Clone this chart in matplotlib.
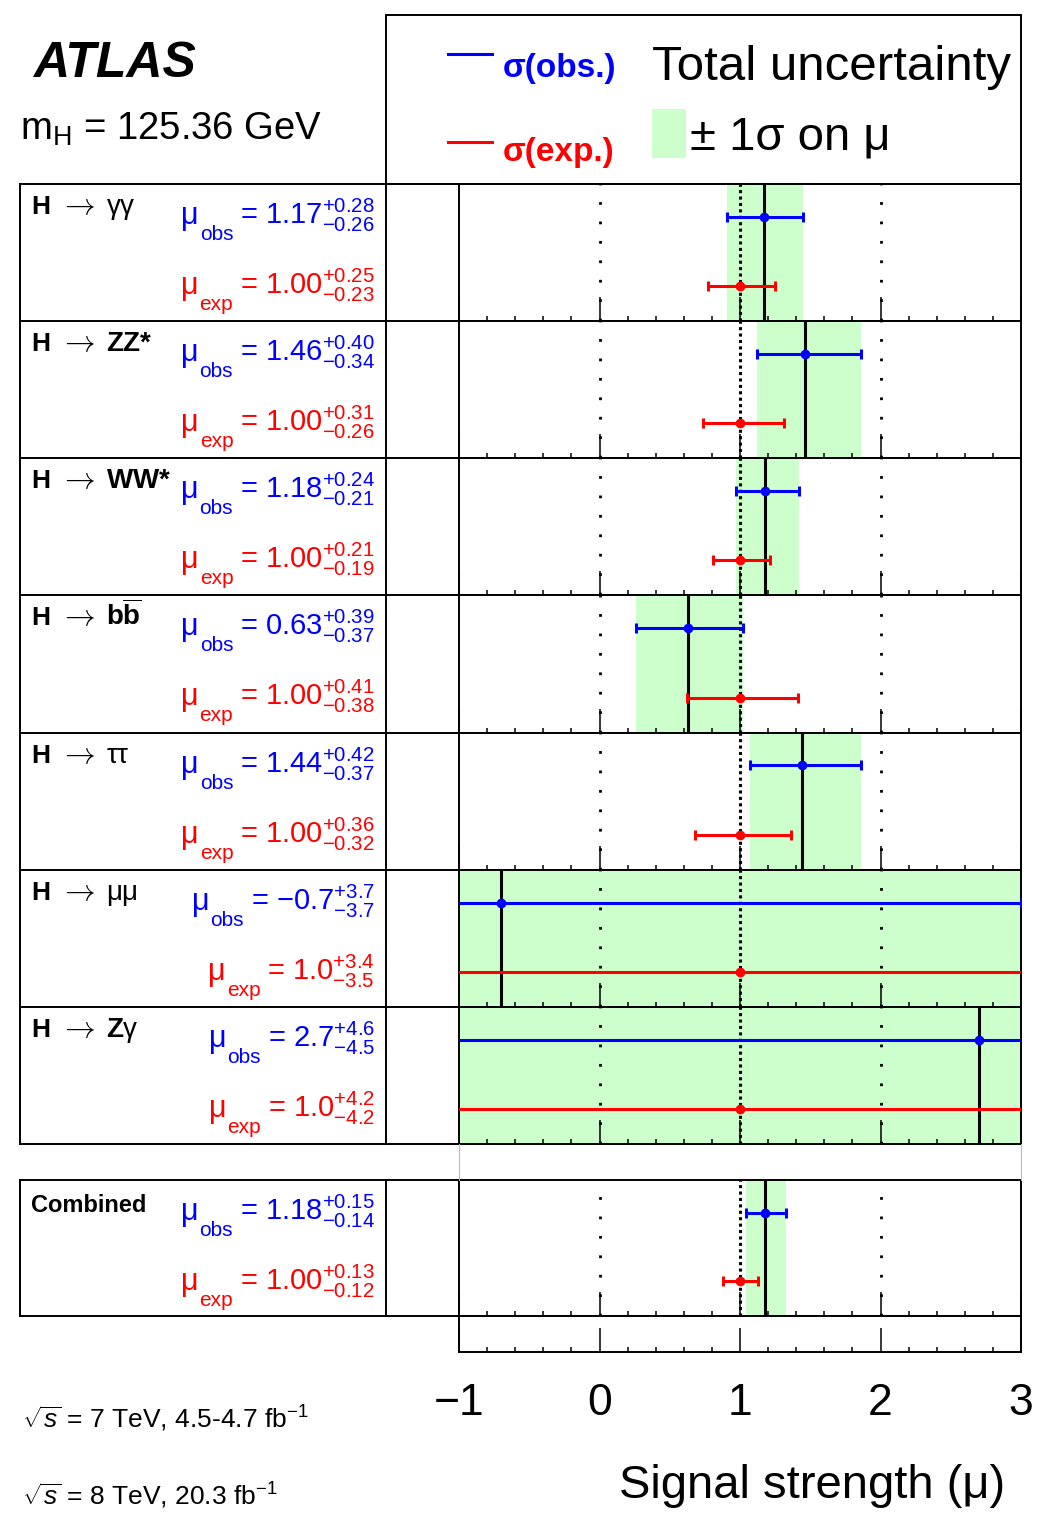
import matplotlib
matplotlib.use("Agg")
import matplotlib.pyplot as plt
import numpy as np
from matplotlib.ticker import MultipleLocator
from matplotlib.patches import Rectangle

plt.rcParams['font.family'] = ['Liberation Sans', 'DejaVu Sans']
plt.rcParams['mathtext.fontset'] = 'custom'
plt.rcParams['mathtext.rm'] = 'Liberation Sans'
plt.rcParams['mathtext.it'] = 'Liberation Sans:italic'
plt.rcParams['mathtext.bf'] = 'Liberation Sans:bold'

# Données : intensité du signal par canal (obs. et attendu)
products = [r"$\mathrm{\gamma\gamma}$",
            r"$\mathbf{ZZ{*}}$",
            r"$\mathbf{WW{*}}$",
            r"$\mathbf{b}\overline{\mathbf{b}}$",
            r"$\mathrm{\tau\tau}$",
            r"$\mathrm{\mu\mu}$",
            r"$\mathbf{Z}\mathrm{\gamma}$",
            "Combined"]
mu_obs = [1.17, 1.46, 1.18, 0.63, 1.44, -0.7, 2.7, 1.18]
obs_up = [0.28, 0.40, 0.24, 0.39, 0.42, 3.7, 4.6, 0.15]
obs_dn = [0.26, 0.34, 0.21, 0.37, 0.37, 3.7, 4.5, 0.14]
mu_exp = [1.00, 1.00, 1.00, 1.00, 1.00, 1.0, 1.0, 1.00]
exp_up = [0.25, 0.31, 0.21, 0.41, 0.36, 3.4, 4.2, 0.13]
exp_dn = [0.23, 0.26, 0.19, 0.38, 0.32, 3.5, 4.2, 0.12]
decimals = [2, 2, 2, 2, 2, 1, 1, 2]

xticks = [-1, 0, 1, 2, 3]

W, H = 1044, 1536
fig = plt.figure(figsize=(W / 100, H / 100), dpi=100)
renderer = fig.canvas.get_renderer()


def box(x0, y0, x1, y1):
    return [x0 / W, 1 - y1 / H, (x1 - x0) / W, (y1 - y0) / H]


def style_axes(ax):
    ax.set_xlim(-1, 3)
    ax.set_ylim(0, 1)
    ax.set_yticks([])
    ax.set_xticks(xticks)
    ax.xaxis.set_minor_locator(MultipleLocator(0.2))
    ax.tick_params(axis='x', which='both', direction='in', top=False, labelbottom=False)
    ax.tick_params(axis='x', which='major', length=17, width=1.1)
    ax.tick_params(axis='x', which='minor', length=3.6, width=1.1)
    for s in ax.spines.values():
        s.set_linewidth(1.4)


def draw_row(i, top, bottom):
    ax = fig.add_axes(box(459, top, 1021, bottom))
    style_axes(ax)
    ax.axvspan(mu_obs[i] - obs_dn[i], mu_obs[i] + obs_up[i], color='#ccffcc', lw=0, zorder=0)
    ax.axvline(0, color='k', lw=2.0, ls=(0, (1, 6)), zorder=1)
    ax.axvline(2, color='k', lw=2.0, ls=(0, (1, 6)), zorder=1)
    ax.axvline(1, color='k', lw=2.2, ls=(0, (1, 1.1)), zorder=1)
    ax.axvline(mu_obs[i], color='k', lw=2.2, zorder=2)
    ax.errorbar(mu_obs[i], 0.76, xerr=[[obs_dn[i]], [obs_up[i]]], fmt='o', color='blue',
                ms=6, elinewidth=2.2, capsize=3.5, capthick=2.2, zorder=3)
    ax.errorbar(mu_exp[i], 0.255, xerr=[[exp_dn[i]], [exp_up[i]]], fmt='o', color='red',
                ms=6, elinewidth=2.2, capsize=3.5, capthick=2.2, zorder=3)
    return ax


# calque en pixels pour les cadres et les textes
ov = fig.add_axes([0, 0, 1, 1], zorder=5)
ov.set_xlim(0, W)
ov.set_ylim(H, 0)
ov.axis('off')
ov.patch.set_alpha(0)


def mu_text(y, val, up, dn, d, sub, color):
    # "= val^{+up}_{-dn}" aligné à droite, puis mu et l'indice placés devant
    t = ov.text(375, y, r"= $%.*f^{+%.*f}_{-%.*f}$" % (d, val, d, up, d, dn),
                color=color, fontsize=21, ha='right', va='baseline')
    x0 = t.get_window_extent(renderer=renderer).x0
    s = ov.text(x0 - 7, y + 16, sub, color=color, fontsize=15, ha='right', va='baseline')
    x1 = s.get_window_extent(renderer=renderer).x0
    ov.text(x1 - 1, y, "μ", color=color, fontsize=22, ha='right', va='baseline')


edges = np.linspace(184, 1144, 8)
rows = [(edges[k], edges[k + 1]) for k in range(7)] + [(1180, 1316)]

for i, (top, bottom) in enumerate(rows):
    draw_row(i, top, bottom)
    d = decimals[i]
    if i == 7:
        ov.text(31, top + 32, products[i], fontsize=17, fontweight='bold', va='baseline')
    else:
        ov.text(31, top + 30, "H", fontsize=19, fontweight='bold', va='baseline')
        ov.text(59, top + 30, r"$\rightarrow$", fontsize=22, math_fontfamily='cm', va='baseline')
        ov.text(106, top + 30, products[i], fontsize=20, va='baseline')
    mu_text(top + 40, mu_obs[i], obs_up[i], obs_dn[i], d, "obs", 'blue')
    mu_text(top + 110, mu_exp[i], exp_up[i], exp_dn[i], d, "exp", 'red')

# cadres de gauche
lw = 1.4
for y in list(edges) + [1180, 1316]:
    ov.plot([20, 459], [y, y], color='k', lw=lw)
for x in [20, 386]:
    ov.plot([x, x], [184, 1144], color='k', lw=lw)
    ov.plot([x, x], [1180, 1316], color='k', lw=lw)
for x in [459, 1021]:
    ov.plot([x, x], [1144, 1180], color='#bbbbbb', lw=0.8)

# cadre de la légende
ov.add_patch(Rectangle((386, 15), 1021 - 386, 184 - 15, fill=False, lw=lw, ec='k'))
ov.plot([448, 492], [54, 54], color='blue', lw=2.2)
ov.plot([448, 492], [142, 142], color='red', lw=2.2)
ov.text(503, 77, "σ(obs.)", color='blue', fontsize=24, fontweight='bold', va='baseline')
ov.text(503, 161, "σ(exp.)", color='red', fontsize=24, fontweight='bold', va='baseline')
ov.add_patch(Rectangle((652, 109), 34, 49, color='#ccffcc', lw=0))
ov.text(652, 80, "Total uncertainty", fontsize=35.5, va='baseline')
ov.text(690, 150, "± 1σ on μ", fontsize=34, va='baseline')

# ATLAS et mH
ov.text(33, 77, "ATLAS", fontsize=36, fontweight='bold', fontstyle='italic', va='baseline')
ov.text(20, 140, r"m$_{\mathrm{H}}$ = 125.36 GeV", fontsize=27.5, va='baseline')

# énergie et luminosité
ov.text(22, 1428, r"$\sqrt{s}$ = 7 TeV, 4.5-4.7 fb$^{-1}$", fontsize=19, va='baseline')
ov.text(22, 1505, r"$\sqrt{s}$ = 8 TeV, 20.3 fb$^{-1}$", fontsize=19, va='baseline')

# axe du bas
axb = fig.add_axes(box(459, 1316, 1021, 1352))
style_axes(axb)
axb.tick_params(axis='x', which='major', labelbottom=True, labelsize=32, pad=22)
axb.set_xticklabels([str(t).replace('-', '\u2212') for t in xticks])
axb.set_xlabel("Signal strength (μ)", fontsize=34, ha='right')
axb.xaxis.set_label_coords(0.972, -3.1)

fig.savefig("out.png", dpi=100)
